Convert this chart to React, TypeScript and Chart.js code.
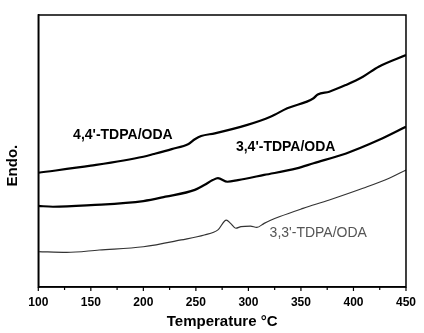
import React, { useEffect, useRef } from "react";
import { Chart, registerables } from "chart.js";

Chart.register(...registerables);

// X axis (temperature, °C)
const tempMin = 100;
const tempMax = 450;
const tempStep = 50;
const minorStep = 25;

// 4,4'-TDPA/ODA
const s44T = [100, 150, 200, 210, 227, 243, 249, 255, 268, 299, 321, 337, 362, 366, 377, 393, 409, 424, 450];
const s44V = [42.0, 44.6, 47.9, 48.9, 50.7, 52.6, 54.3, 55.5, 56.5, 59.6, 62.6, 65.7, 69.4, 70.8, 71.8, 74.3, 77.3, 81.0, 85.3];

// 3,4'-TDPA/ODA
const s34T = [100, 114, 150, 200, 221, 249, 258, 266, 271, 280, 290, 315, 346, 362, 393, 424, 450];
const s34V = [29.8, 29.5, 30.1, 31.6, 33.2, 35.7, 37.5, 39.3, 40.0, 38.7, 39.3, 41.2, 43.6, 45.5, 49.1, 54.0, 58.9];

// 3,3'-TDPA/ODA
const s33T = [100, 127, 158, 200, 236, 258, 271, 279, 283, 288, 293, 302, 308, 315, 330, 352, 377, 409, 434, 450];
const s33V = [13.0, 12.7, 13.6, 14.8, 17.3, 19.1, 21.0, 24.6, 23.4, 21.6, 22.2, 22.4, 21.9, 23.4, 25.9, 28.9, 32.0, 36.3, 40.0, 43.0];

// Curve labels (text, anchor in data units)
const labelTexts = ["4,4'-TDPA/ODA", "3,4'-TDPA/ODA", "3,3'-TDPA/ODA"];
const labelT = [180.5, 335.5, 366.5];
const labelV = [55.9, 51.5, 19.9];

const toPts = (xs: number[], ys: number[]) => xs.map((x, i) => ({ x, y: ys[i] }));

const framePlugin = {
  id: "frameAndTicks",
  afterDatasetsDraw(chart: any) {
    const { ctx, chartArea, scales } = chart;
    const xs = scales.x;
    ctx.save();
    // small outward ticks on bottom axis
    ctx.strokeStyle = "#000";
    ctx.lineWidth = 1.2;
    for (let v = tempMin; v <= tempMax; v += minorStep) {
      const px = xs.getPixelForValue(v);
      const len = v % tempStep === 0 ? 4 : 3;
      ctx.beginPath();
      ctx.moveTo(px, chartArea.bottom);
      ctx.lineTo(px, chartArea.bottom + len);
      ctx.stroke();
    }
    // frame
    ctx.lineWidth = 1.5;
    ctx.strokeRect(chartArea.left, chartArea.top, chartArea.right - chartArea.left, chartArea.bottom - chartArea.top);
    // curve labels
    ctx.textAlign = "center";
    ctx.textBaseline = "middle";
    labelTexts.forEach((t, i) => {
      const px = xs.getPixelForValue(labelT[i]);
      const py = scales.y.getPixelForValue(labelV[i]);
      if (i < 2) {
        ctx.font = "bold 14px 'Liberation Sans', Arial, sans-serif";
        ctx.fillStyle = "#000";
      } else {
        ctx.font = "14px 'Liberation Sans', Arial, sans-serif";
        ctx.fillStyle = "#555";
      }
      ctx.fillText(t, px, py);
    });
    ctx.restore();
  },
};

export default function App() {
  const ref = useRef<HTMLCanvasElement | null>(null);
  useEffect(() => {
    if (!ref.current) return;
    const chart = new Chart(ref.current, {
      type: "line",
      data: {
        datasets: [
          {
            label: "4,4'-TDPA/ODA",
            data: toPts(s44T, s44V),
            borderColor: "#000",
            borderWidth: 2.2,
            pointRadius: 0,
            cubicInterpolationMode: "monotone",
          },
          {
            label: "3,4'-TDPA/ODA",
            data: toPts(s34T, s34V),
            borderColor: "#000",
            borderWidth: 2.2,
            pointRadius: 0,
            cubicInterpolationMode: "monotone",
          },
          {
            label: "3,3'-TDPA/ODA",
            data: toPts(s33T, s33V),
            borderColor: "#333",
            borderWidth: 1.2,
            pointRadius: 0,
            cubicInterpolationMode: "monotone",
          },
        ],
      },
      options: {
        animation: false,
        responsive: true,
        maintainAspectRatio: false,
        layout: { padding: { top: 15, right: 13.5, left: 0, bottom: 0 } },
        plugins: { legend: { display: false }, tooltip: { enabled: false } },
        scales: {
          x: {
            type: "linear",
            min: tempMin,
            max: tempMax,
            afterFit: (s: any) => {
              s.height = 46;
            },
            grid: { display: false, drawTicks: false },
            border: { display: true, color: "#000", width: 1.5 },
            ticks: {
              stepSize: tempStep,
              padding: 8,
              color: "#000",
              font: { family: "'Liberation Sans', Arial, sans-serif", size: 12, weight: "bold" },
            },
            title: {
              display: true,
              text: "Temperature °C",
              color: "#000",
              padding: { top: 0, bottom: 2 },
              font: { family: "'Liberation Sans', Arial, sans-serif", size: 15, weight: "bold" },
            },
          },
          y: {
            type: "linear",
            min: 0,
            max: 100,
            afterFit: (s: any) => {
              s.width = 38.3;
            },
            grid: { display: false, drawTicks: false },
            border: { display: true, color: "#000", width: 1.5 },
            ticks: { display: false },
            title: {
              display: true,
              text: "Endo.       ",
              color: "#000",
              padding: { top: 4, bottom: 0 },
              font: { family: "'Liberation Sans', Arial, sans-serif", size: 15, weight: "bold" },
            },
          },
        },
      },
      plugins: [framePlugin],
    } as any);
    return () => chart.destroy();
  }, []);
  return (
    <div style={{ position: "absolute", left: 0, top: 0, width: 424, height: 333, background: "#fff" }}>
      <canvas ref={ref} />
    </div>
  );
}
